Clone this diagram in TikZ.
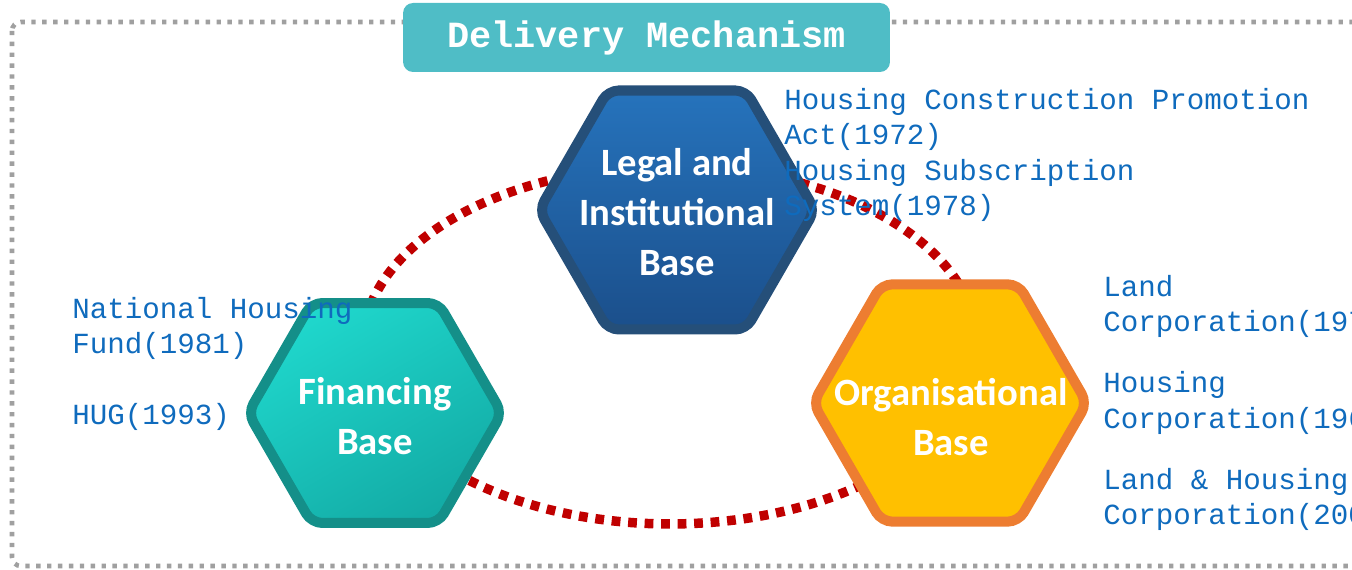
\documentclass[tikz,border=0pt]{standalone}
\usepackage{fontspec}
\usetikzlibrary{shapes.geometric}

\newfontfamily\monofont{Liberation Mono}
\newfontfamily\hexfont{Carlito}

\definecolor{framegray}{HTML}{A0A0A0}
\definecolor{titleteal}{HTML}{4FBDC6}
\definecolor{ringred}{HTML}{C00000}
\definecolor{noteblue}{HTML}{0F6BBD}
\definecolor{legaltop}{HTML}{2673BC}
\definecolor{legalbot}{HTML}{1B4F8B}
\definecolor{legalrim}{HTML}{254F79}
\definecolor{fintop}{HTML}{1FD7CC}
\definecolor{finbot}{HTML}{13ABA5}
\definecolor{finrim}{HTML}{148F89}
\definecolor{orgfill}{HTML}{FFC000}
\definecolor{orgrim}{HTML}{ED7D31}

\begin{document}
\begin{tikzpicture}[
        x = 0.02cm, y = -0.02cm, % one unit per pixel, y runs down
        hexagon/.style = {regular polygon, regular polygon sides=6,
                          rounded corners=6pt, line width=5.7pt, inner sep=0pt},
        hexlabel/.style = {text=white, align=center,
                           font=\hexfont\bfseries\fontsize{22}{28.5}\selectfont},
        note/.style = {anchor=north west, inner sep=0pt, align=left, text=noteblue,
                       font=\monofont\fontsize{16.6}{20.1}\selectfont},
        ]

  \useasboundingbox (0,0) rectangle (1352,570);
  \clip (0,0) rectangle (1352,570);

  % dotted frame round the whole thing
  \draw[framegray, line width=2.6pt, dash pattern=on 2.5pt off 3.7pt, rounded corners=5pt]
    (12,22) rectangle (1380,566);

  % the ring behind the three bases
  \coordinate (ring) at (670,345);
  \draw[ringred, line width=5.4pt, dash pattern=on 5pt off 4.4pt]
    (ring) ellipse [x radius=6.14cm, y radius=3.58cm];

  % the three bases
  \node[hexagon, draw=legalrim, top color=legaltop, bottom color=legalbot,
        minimum size=5.52cm] (legal) at (677,210) {};
  \node[hexagon, draw=finrim, top color=fintop, bottom color=finbot, shading angle=30,
        minimum size=5.08cm] (fin) at (375,413) {};
  \node[hexagon, draw=orgrim, fill=orgfill,
        minimum size=5.48cm] (org) at (950,403) {};

  \node[hexlabel] (legaltext) at (677,212) {Legal and\\Institutional\\Base};
  \node[hexlabel] (fintext) at (375,416) {Financing\\Base};
  \node[hexlabel] (orgtext) at (951,417) {Organisational\\Base};

  % title tab
  \node[fill=titleteal, rounded corners=0.2cm, minimum width=9.74cm, minimum height=1.38cm,
        text=white, font=\monofont\bfseries\fontsize{21}{25}\selectfont]
    (title) at (646.5,37.5) {Delivery Mechanism};

  % notes beside each base
  \node[note] (legalnote) at (784,88)
    {Housing Construction Promotion\\Act(1972)\\Housing Subscription\\System(1978)};
  \node[note] (finnote) at (72,297)
    {National Housing\\Fund(1981)\\[20pt]HUG(1993)};
  \node[note] (orgnote) at (1103,275)
    {Land\\Corporation(1975)\\[14.7pt]Housing\\Corporation(1962)\\[14.7pt]Land \& Housing\\Corporation(2009)};

\end{tikzpicture}
\end{document}
